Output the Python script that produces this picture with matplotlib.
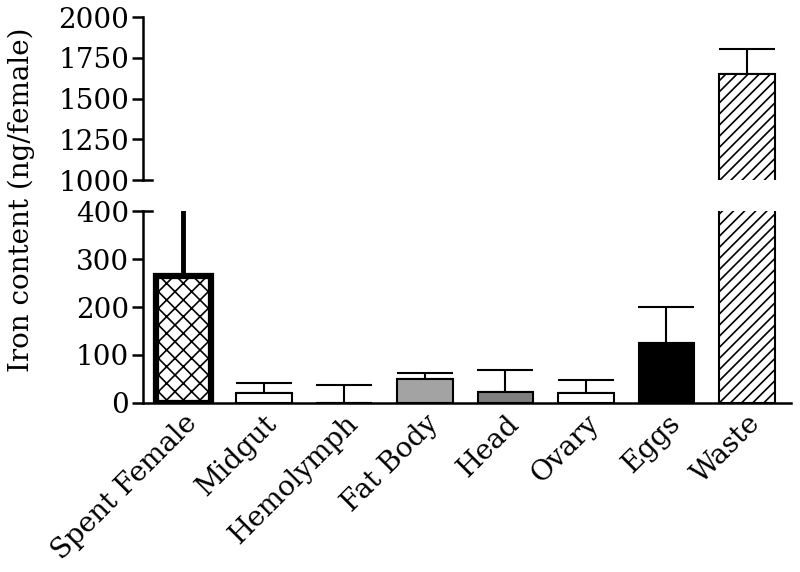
import numpy as np
import matplotlib
matplotlib.use("Agg")
import matplotlib.pyplot as plt

# iron content per tissue
tissues = ["Spent Female", "Midgut", "Hemolymph", "Fat Body", "Head", "Ovary", "Eggs", "Waste"]
iron_ng = [264, 20, 0, 50, 22, 20, 125, 1650]
iron_sem = [160, 21, 37, 12, 47, 27, 76, 155]

face = ["white", "white", "white", "#a3a3a3", "#7f7f7f", "white", "black", "white"]
hatches = ["xx", None, None, None, None, None, None, "///"]
edge_w = [4.5, 1.5, 1.5, 1.5, 1.5, 1.5, 1.5, 1.5]
err_w = [3.5, 1.5, 1.5, 1.5, 1.5, 1.5, 1.5, 1.5]
caps = [0, 20, 20, 20, 20, 20, 20, 20]

top_ticks = [1000, 1250, 1500, 1750, 2000]
bottom_ticks = [0, 100, 200, 300, 400]

plt.rcParams["font.family"] = ["DejaVu Serif"]
plt.rcParams["hatch.linewidth"] = 1.2

fig = plt.figure(figsize=(8, 5.72), dpi=100)
ax_top = fig.add_axes([0.179, 0.685, 0.81, 0.285])
ax_bot = fig.add_axes([0.179, 0.2955, 0.81, 0.3355])

x = np.arange(len(tissues))

for ax in (ax_top, ax_bot):
    for i in range(len(tissues)):
        ax.bar(x[i], iron_ng[i], width=0.69, color=face[i], edgecolor="black",
               linewidth=edge_w[i], hatch=hatches[i], zorder=2)
        ax.errorbar(x[i], iron_ng[i], yerr=[[0], [iron_sem[i]]], fmt="none",
                    ecolor="black", elinewidth=err_w[i], capsize=caps[i],
                    capthick=1.5, zorder=1)
    ax.set_xlim(-0.5, 7.55)
    for s in ("top", "right"):
        ax.spines[s].set_visible(False)
    ax.spines["left"].set_linewidth(1.8)
    ax.tick_params(axis="y", length=8, width=1.8, labelsize=20, pad=2)

ax_top.set_ylim(1000, 2000)
ax_top.set_yticks(top_ticks)
ax_top.spines["bottom"].set_visible(False)
ax_top.set_xticks([])

ax_bot.set_ylim(0, 400)
ax_bot.set_yticks(bottom_ticks)
ax_bot.spines["bottom"].set_linewidth(1.8)
ax_bot.set_xticks(x)
ax_bot.set_xticklabels(tissues, rotation=45, ha="right", rotation_mode="anchor", fontsize=20)
ax_bot.tick_params(axis="x", length=0, pad=5)

# break marks on the inner side of the axis
ax_top.plot([0, 0.014], [1000, 1000], color="black", lw=1.8,
            transform=ax_top.get_yaxis_transform(), clip_on=False)
ax_bot.plot([0, 0.014], [400, 400], color="black", lw=1.8,
            transform=ax_bot.get_yaxis_transform(), clip_on=False)

fig.text(0.027, 0.65, "Iron content (ng/female)", rotation=90, ha="center", va="center", fontsize=20)

fig.savefig("out.png", dpi=100)
